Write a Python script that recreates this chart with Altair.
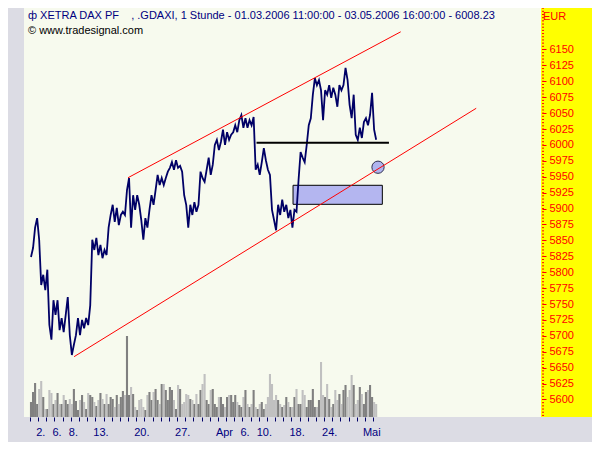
import altair as alt
import pandas as pd

# ---------------- texts ----------------
title_text = "ф XETRA DAX PF\u00a0\u00a0\u00a0\u00a0, .GDAXI, 1 Stunde - 01.03.2006 11:00:00 - 03.05.2006 16:00:00 - 6008.23"
copyright_text = "© www.tradesignal.com"
currency_text = "EUR"

# trading-day index of labelled ticks and their labels
label_days = [1, 3, 5, 8, 13, 18, 23, 26, 28, 32, 36, 41]
label_texts = ["2.", "6.", "8.", "13.", "20.", "27.", "Apr", "6.", "10.", "18.", "24.", "Mai"]
n_days = 43
per_day = 4

# ---------------- samples (4 per trading day) ----------------
price = [
    5824, 5838, 5870, 5885,  5851, 5780, 5796, 5772,  5804, 5717, 5694, 5756,
    5733, 5756, 5709, 5728,  5706, 5733, 5761, 5701,  5670, 5686, 5701, 5728,
    5701, 5725, 5712, 5728,  5717, 5748, 5851, 5835,  5854, 5827, 5843, 5822,
    5835, 5827, 5870, 5890,  5906, 5879, 5901, 5874,  5890, 5895, 5890, 5929,
    5948, 5870, 5921, 5898,  5921, 5906, 5882, 5851,  5885, 5870, 5898, 5921,
    5906, 5929, 5953, 5937,  5948, 5937, 5948, 5958,  5964, 5973, 5961, 5976,
    5964, 5967, 5958, 5921,  5906, 5870, 5906, 5890,  5910, 5895, 5906, 5958,
    5948, 5942, 5961, 5980,  5953, 5969, 6000, 6008,  5992, 6005, 6024, 6000,
    6020, 6008, 6016, 6020,  6031, 6020, 6039, 6047,  6027, 6042, 6027, 6039,
    6031, 6044, 5961, 5969,  5953, 5973, 5995, 5976,  5961, 5953, 5898, 5882,
    5866, 5906, 5890, 5914,  5895, 5906, 5885, 5898,  5870, 5898, 5895, 5945,
    5989, 5980, 5973, 6000,  6031, 6042, 6079, 6105,  6094, 6102, 6086, 6039,
    6086, 6079, 6094, 6074,  6090, 6079, 6060, 6094,  6086, 6094, 6121, 6102,
    6063, 6042, 6079, 6016,  6008, 6027, 6011, 6036,  6042, 6031, 6047, 6082,
    6024, 6008.23,
]

volume = [
    15, 25, 34, 13,  28, 36, 20, 8,  8, 27, 24, 13,  17, 24, 13, 13,
    22, 17, 13, 18,  13, 28, 16, 7,  17, 22, 15, 8,  24, 22, 20, 15,
    11, 17, 24, 18,  13, 23, 13, 20,  18, 10, 22, 13,  20, 26, 22, 81,
    22, 30, 23, 10,  7, 17, 18, 10,  7, 22, 25, 17,  25, 28, 17, 13,
    33, 33, 27, 17,  30, 27, 17, 8,  32, 28, 13, 15,  23, 22, 18, 17,
    13, 23, 13, 27,  33, 43, 17, 13,  27, 28, 13, 10,  20, 20, 13, 10,
    20, 22, 22, 15,  22, 15, 12, 10,  20, 27, 13, 10,  13, 27, 10, 8,
    13, 15, 8, 13,  20, 43, 33, 17,  22, 17, 13, 10,  12, 20, 15, 10,
    10, 20, 28, 13,  13, 27, 22, 10,  17, 17, 28, 10,  10, 17, 55, 22,
    20, 33, 18, 10,  13, 27, 17, 23,  13, 27, 32, 20,  27, 42, 32, 13,
    17, 30, 23, 13,  25, 27, 32, 20,  15, 13,
]

# ---------------- drawings ----------------
upper_channel_t = [12.0, 45.38]
upper_channel_v = [5948.5, 6177.8]
lower_channel_t = [5.40, 54.62]
lower_channel_v = [5667.3, 6057.6]
support_t = [27.73, 43.94]
support_v = 6003.5
zone_t = [32.2, 43.13]
zone_v = [5906.7, 5936.6]
marker_t = 42.6
marker_v = 5965.0

price_ticks = list(range(5600, 6151, 25))
minor_ticks = list(range(5575, 6216, 5))

XDOM = [-0.12, 61.94]
YDOM = [5572.5, 6215.2]
VDOM = [0, 409]
W, H = 517, 409
RIGHT = 51

FONT = "Liberation Sans"
NAVY = "#000080"
RED = "#ff0000"

# ---------------- tables ----------------
t = [d + (k + 0.5) / per_day for d in range(n_days) for k in range(per_day)][: len(price)]
dirs = ["up"] + ["up" if price[i] >= price[i - 1] else "down" for i in range(1, len(price))]
series = pd.DataFrame({"t": t, "price": price, "vol": volume, "dir": dirs})

channels = pd.DataFrame({
    "t": upper_channel_t + lower_channel_t,
    "v": upper_channel_v + lower_channel_v,
    "g": ["upper", "upper", "lower", "lower"],
})
support = pd.DataFrame({"t": [support_t[0]], "t2": [support_t[1]], "v": [support_v]})
zone = pd.DataFrame({"t": [zone_t[0]], "t2": [zone_t[1]], "v": [zone_v[0]], "v2": [zone_v[1]]})
marker = pd.DataFrame({"t": [marker_t], "v": [marker_v]})
minor = pd.DataFrame({"m": minor_ticks})
one = pd.DataFrame({"a": [0]})

label_expr = " : ".join(f"datum.value == {d} ? '{s}'" for d, s in zip(label_days, label_texts)) + " : ''"

xscale = alt.Scale(domain=XDOM, nice=False, zero=False)
yscale = alt.Scale(domain=YDOM, nice=False, zero=False)

xaxis = alt.Axis(
    values=list(range(n_days)), labelExpr=label_expr, title="", domain=False, grid=False,
    ticks=True, tickColor="#000066", tickSize=4, labelColor=NAVY, labelFont=FONT,
    labelFontSize=11, labelAlign="left", labelOffset=-2.5, labelPadding=5,
    labelBaseline="top", labelFlush=False, labelOverlap=False, labelBound=False,
)
yaxis = alt.Axis(
    orient="right", values=price_ticks, format="d", title="", domain=False, grid=False,
    tickColor=RED, tickSize=4, offset=1, labelColor=RED, labelFont=FONT,
    labelFontSize=11, labelPadding=3, labelFlush=False, labelOverlap=False, zindex=1,
)


def X(field):
    return alt.X(field, type="quantitative", scale=xscale, axis=xaxis)


def Y(field, axis=None):
    if axis is None:
        return alt.Y(field, type="quantitative", scale=yscale, axis=None)
    return alt.Y(field, type="quantitative", scale=yscale, axis=axis)


yellow = alt.Chart(one).mark_rect(color="#ffff00").encode(
    x=alt.value(W), x2=alt.value(W + RIGHT), y=alt.value(0), y2=alt.value(H)
)

vol = alt.Chart(series).mark_bar(width=2.1).encode(
    x=X("t"),
    y=alt.Y("vol:Q", scale=alt.Scale(domain=VDOM), axis=None),
    color=alt.Color("dir:N", scale=alt.Scale(domain=["up", "down"], range=["#808080", "#c0c0c0"]), legend=None),
)

zone_l = alt.Chart(zone).mark_rect(fill="#b4b6f0", stroke="#000000", strokeWidth=1).encode(
    x=X("t"), x2="t2", y=Y("v"), y2="v2"
)

marker_l = alt.Chart(marker).mark_circle(size=150, color="#b0b4ee", stroke="#303050", strokeWidth=1, opacity=1).encode(
    x=X("t"), y=Y("v")
)

line_l = alt.Chart(series).mark_line(color="#000066", strokeWidth=1.8).encode(
    x=X("t"), y=Y("price", yaxis)
)

support_l = alt.Chart(support).mark_rule(color="#000000", strokeWidth=2).encode(
    x=X("t"), x2="t2", y=Y("v")
)

channel_l = alt.Chart(channels).mark_line(color=RED, strokeWidth=1).encode(
    x=X("t"), y=Y("v"), detail="g:N"
)

minor_l = alt.Chart(minor).mark_rule(color=RED, strokeWidth=1).encode(
    x=alt.value(W + 1), x2=alt.value(W + 3), y=Y("m")
)

title_l = alt.Chart(pd.DataFrame({"s": [title_text]})).mark_text(
    align="left", baseline="middle", font=FONT, fontSize=11, color=NAVY
).encode(x=alt.value(4), y=alt.value(8), text="s:N")

copy_l = alt.Chart(pd.DataFrame({"s": [copyright_text]})).mark_text(
    align="left", baseline="middle", font=FONT, fontSize=11, color="#000000"
).encode(x=alt.value(4), y=alt.value(23), text="s:N")

eur_l = alt.Chart(pd.DataFrame({"s": [currency_text]})).mark_text(
    align="left", baseline="middle", font=FONT, fontSize=11, color=RED
).encode(x=alt.value(W + 2), y=alt.value(9), text="s:N")

chart = alt.layer(
    yellow, vol, zone_l, marker_l, line_l, support_l, channel_l, minor_l, title_l, copy_l, eur_l
).resolve_scale(y="independent").properties(
    width=W, height=H, background="#dcdce4",
    padding={"left": 16, "top": 0, "right": RIGHT, "bottom": 25},
    autosize=alt.AutoSizeParams(type="none"),
).configure_view(fill="#f7faee", strokeWidth=0)

chart.save("out.html", embed_options={"renderer": "svg", "actions": False})
